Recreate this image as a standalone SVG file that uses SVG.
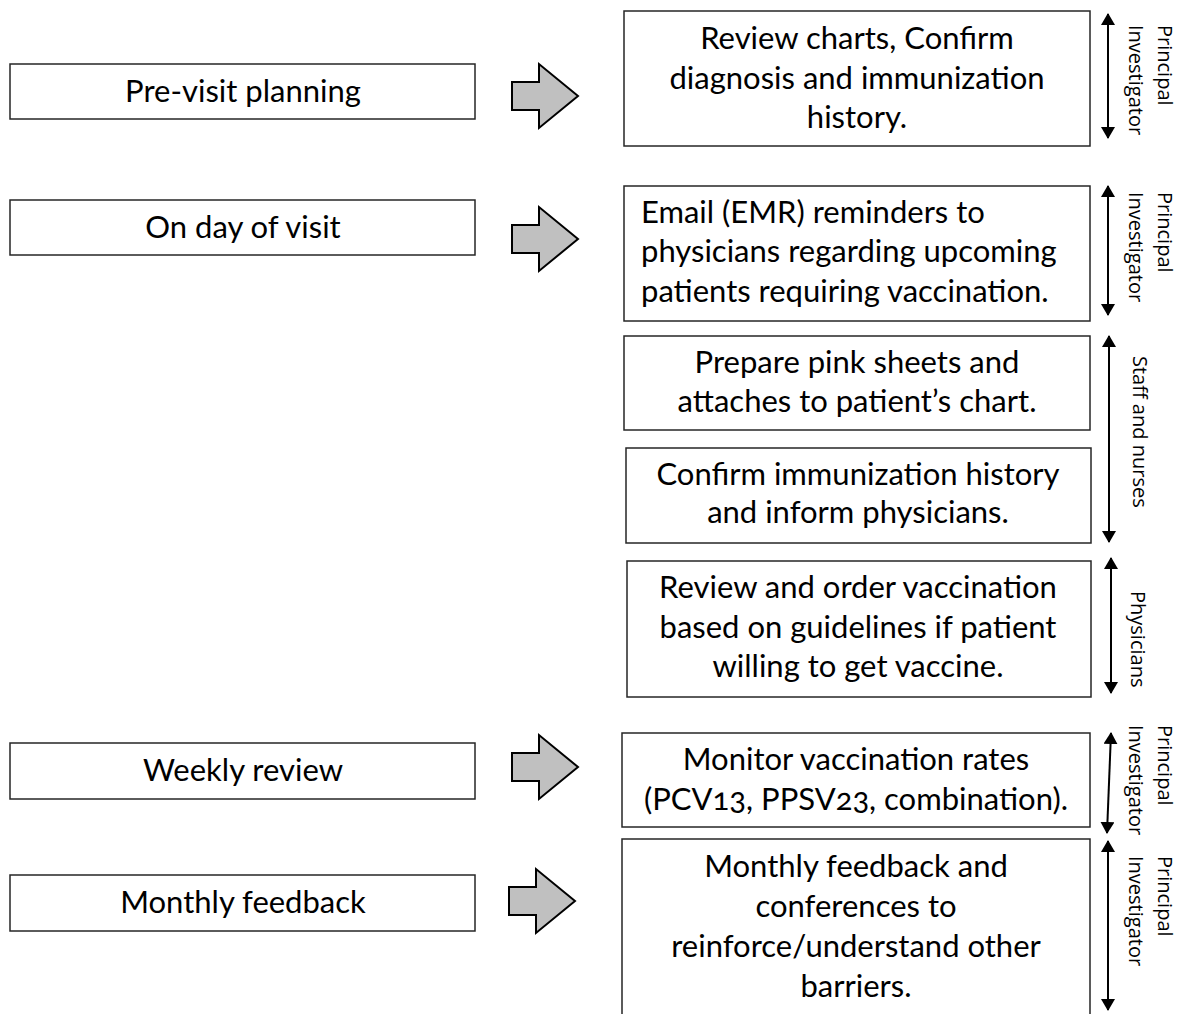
<svg xmlns="http://www.w3.org/2000/svg" width="1179" height="1014" viewBox="0 0 1179 1014">
<defs>
<style>
.box{fill:#fff;stroke:#262626;stroke-width:1.5}
.t{font-family:Lato,"Liberation Sans",sans-serif;font-size:31px;fill:#000}
.c{text-anchor:middle}
.on{font-variant-numeric:oldstyle-nums}
.r{font-family:"Open Sans","Liberation Sans",sans-serif;font-size:20px;fill:#000}
.ga{fill:#c0c0c0;stroke:#000;stroke-width:2;stroke-linejoin:miter}
.da{stroke:#000;stroke-width:2;fill:none;marker-start:url(#ah);marker-end:url(#ah)}
</style>
<marker id="ah" viewBox="0 0 12 14" refX="11" refY="7" markerWidth="12" markerHeight="14" markerUnits="userSpaceOnUse" orient="auto-start-reverse">
<path d="M0,0 L12,7 L0,14 Z" fill="#000"/>
</marker>
<path id="garrow" d="M0,-14 H27 V-32 L66,0 L27,32 V14 H0 Z"/>
</defs>
<rect width="1179" height="1014" fill="#fff"/>

<g id="previsit"><rect class="box" x="10" y="64" width="465" height="55"/><text class="t c" x="243" y="102">Pre-visit planning</text></g>
<g id="dayofvisit"><rect class="box" x="10" y="200" width="465" height="55"/><text class="t c" x="243" y="238">On day of visit</text></g>
<g id="weekly"><rect class="box" x="10" y="743" width="465" height="56"/><text class="t c" x="243" y="781">Weekly review</text></g>
<g id="monthly"><rect class="box" x="10" y="875" width="465" height="56"/><text class="t c" x="243" y="913">Monthly feedback</text></g>

<g id="connectors">
<use href="#garrow" class="ga" x="512" y="96"/>
<use href="#garrow" class="ga" x="512" y="239"/>
<use href="#garrow" class="ga" x="512" y="767"/>
<use href="#garrow" class="ga" x="509" y="901"/>
<line class="da" x1="1108" y1="14" x2="1108" y2="138"/>
<line class="da" x1="1108" y1="186" x2="1108" y2="315"/>
<line class="da" x1="1109" y1="336" x2="1109" y2="542"/>
<line class="da" x1="1111" y1="558" x2="1111" y2="693"/>
<line class="da" x1="1111" y1="733" x2="1107" y2="833"/>
<line class="da" x1="1108" y1="841" x2="1108" y2="1010"/>
</g>

<g id="review-charts"><rect class="box" x="624" y="11" width="466" height="135"/>
<text class="t c"><tspan x="857" y="49">Review charts, Confirm</tspan><tspan x="857" y="89">diagnosis and immunization</tspan><tspan x="857" y="128">history.</tspan></text></g>
<g id="email"><rect class="box" x="624" y="186" width="466" height="135"/>
<text class="t"><tspan x="641" y="223">Email (EMR) reminders to</tspan><tspan x="641" y="262">physicians regarding upcoming</tspan><tspan x="641" y="302">patients requiring vaccination.</tspan></text></g>
<g id="pink-sheets"><rect class="box" x="624" y="336" width="466" height="94"/>
<text class="t c"><tspan x="857" y="373">Prepare pink sheets and</tspan><tspan x="857" y="412">attaches to patient’s chart.</tspan></text></g>
<g id="confirm"><rect class="box" x="626" y="448" width="465" height="95"/>
<text class="t c"><tspan x="858" y="485">Confirm immunization history</tspan><tspan x="858" y="523">and inform physicians.</tspan></text></g>
<g id="order"><rect class="box" x="627" y="561" width="464" height="136"/>
<text class="t c"><tspan x="858" y="598">Review and order vaccination</tspan><tspan x="858" y="638">based on guidelines if patient</tspan><tspan x="858" y="677">willing to get vaccine.</tspan></text></g>
<g id="monitor"><rect class="box" x="622" y="733" width="468" height="94"/>
<text class="t c"><tspan x="856" y="770">Monitor vaccination rates</tspan><tspan class="on" x="856" y="810">(PCV13, PPSV23, combination).</tspan></text></g>
<g id="feedback"><path class="box" d="M622,1016 V839 H1090 V1016"/>
<text class="t c"><tspan x="856" y="877">Monthly feedback and</tspan><tspan x="856" y="917">conferences to</tspan><tspan x="856" y="957">reinforce/understand other</tspan><tspan x="856" y="997">barriers.</tspan></text></g>

<g id="role-pi-1"><text class="r" transform="translate(1158,25) rotate(90)">Principal</text><text class="r" transform="translate(1129,25) rotate(90)">Investigator</text></g>
<g id="role-pi-2"><text class="r" transform="translate(1158,192) rotate(90)">Principal</text><text class="r" transform="translate(1129,192) rotate(90)">Investigator</text></g>
<g id="role-staff"><text class="r" transform="translate(1133,356) rotate(90)">Staff and nurses</text></g>
<g id="role-phys"><text class="r" transform="translate(1131,591) rotate(90)">Physicians</text></g>
<g id="role-pi-3"><text class="r" transform="translate(1158,725) rotate(90)">Principal</text><text class="r" transform="translate(1129,725) rotate(90)">Investigator</text></g>
<g id="role-pi-4"><text class="r" transform="translate(1158,856) rotate(90)">Principal</text><text class="r" transform="translate(1129,856) rotate(90)">Investigator</text></g>
</svg>
